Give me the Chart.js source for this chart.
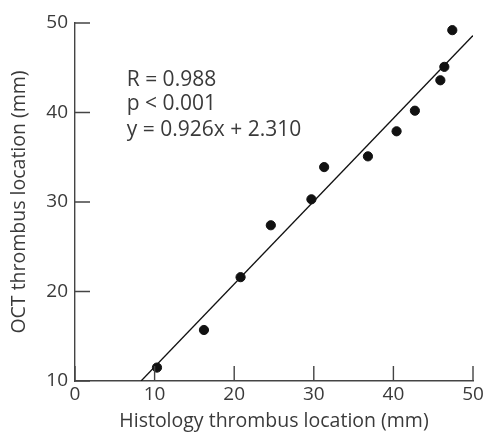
<!DOCTYPE html>
<html>
<head>
<meta charset="utf-8">
<script src="https://cdn.jsdelivr.net/npm/chart.js@4/dist/chart.umd.min.js"></script>
<style>
  body { margin: 0; background: #fff; }
  #wrap { width: 486px; height: 437px; }
</style>
</head>
<body>
<div id="wrap"><canvas id="chart" width="486" height="437"></canvas></div>
<script>
// histology vs OCT thrombus location (mm)
var histology = [10.3, 16.2, 20.8, 24.6, 29.7, 31.3, 36.8, 40.4, 42.7, 45.9, 46.4, 47.4];
var oct = [11.5, 15.7, 21.6, 27.4, 30.3, 33.9, 35.1, 37.9, 40.2, 43.6, 45.1, 49.2];
// regression line end points
var fitX = [8.3, 50];
var fitY = [10, 48.6];
var xTicks = [0, 10, 20, 30, 40, 50];
var yTicks = [10, 20, 30, 40, 50];
var statsText = ['R = 0.988', 'p < 0.001', 'y = 0.926x + 2.310'];

var fontFamily = "'Open Sans', 'DejaVu Sans', sans-serif";
var textColor = '#3a3a3a';

// ticks drawn inward from the axis lines
var innerTicks = {
    id: 'innerTicks',
    afterDraw: function(chart) {
        var ctx = chart.ctx;
        var xs = chart.scales.x, ys = chart.scales.y;
        var area = chart.chartArea;
        ctx.save();
        ctx.strokeStyle = '#444';
        ctx.lineWidth = 1.4;
        ctx.beginPath();
        xTicks.forEach(function(v) {
            var px = xs.getPixelForValue(v);
            ctx.moveTo(px, area.bottom);
            ctx.lineTo(px, area.bottom - 15);
        });
        yTicks.forEach(function(v) {
            var py = ys.getPixelForValue(v);
            ctx.moveTo(area.left, py);
            ctx.lineTo(area.left + 15, py);
        });
        ctx.stroke();

        // stats annotation
        ctx.fillStyle = textColor;
        ctx.font = '21px ' + fontFamily;
        ctx.textBaseline = 'middle';
        var x0 = xs.getPixelForValue(6.5);
        var ly = [43.6, 40.9, 38.0];
        statsText.forEach(function(t, i) {
            ctx.fillText(t, x0, ys.getPixelForValue(ly[i]));
        });
        ctx.restore();
    }
};

var pts = histology.map(function(h, i) { return {x: h, y: oct[i]}; });
var fit = fitX.map(function(h, i) { return {x: h, y: fitY[i]}; });

new Chart(document.getElementById('chart'), {
    type: 'scatter',
    data: {
        datasets: [{
            data: pts,
            backgroundColor: '#111',
            borderColor: '#111',
            pointRadius: 4.6,
            pointHoverRadius: 4.6
        }, {
            data: fit,
            showLine: true,
            borderColor: '#111',
            borderWidth: 1.3,
            pointRadius: 0,
            fill: false
        }]
    },
    options: {
        responsive: false,
        animation: false,
        layout: { padding: { top: 23, right: 13, left: 0, bottom: 0 } },
        plugins: {
            legend: { display: false },
            tooltip: { enabled: false }
        },
        scales: {
            x: {
                type: 'linear',
                min: 0, max: 50,
                afterFit: function(s) { s.height = 56; },
                afterBuildTicks: function(s) { s.ticks = xTicks.map(function(v) { return {value: v}; }); },
                grid: { drawOnChartArea: false, drawTicks: false },
                border: { color: '#444', width: 1.4 },
                ticks: { color: textColor, font: { size: 19, family: fontFamily }, padding: 2 },
                title: { display: true, text: 'Histology thrombus location (mm)', color: textColor,
                         font: { size: 19.5, family: fontFamily }, padding: { top: 0, bottom: 4 } }
            },
            y: {
                type: 'linear',
                min: 10, max: 50,
                afterFit: function(s) { s.width = 75; },
                afterBuildTicks: function(s) { s.ticks = yTicks.map(function(v) { return {value: v}; }); },
                grid: { drawOnChartArea: false, drawTicks: false },
                border: { color: '#444', width: 1.4 },
                ticks: { color: textColor, font: { size: 19, family: fontFamily }, padding: 7 },
                title: { display: true, text: 'OCT thrombus location (mm)', color: textColor,
                         font: { size: 19.5, family: fontFamily }, padding: { top: 8, bottom: 0 } }
            }
        }
    },
    plugins: [innerTicks]
});
</script>
</body>
</html>
